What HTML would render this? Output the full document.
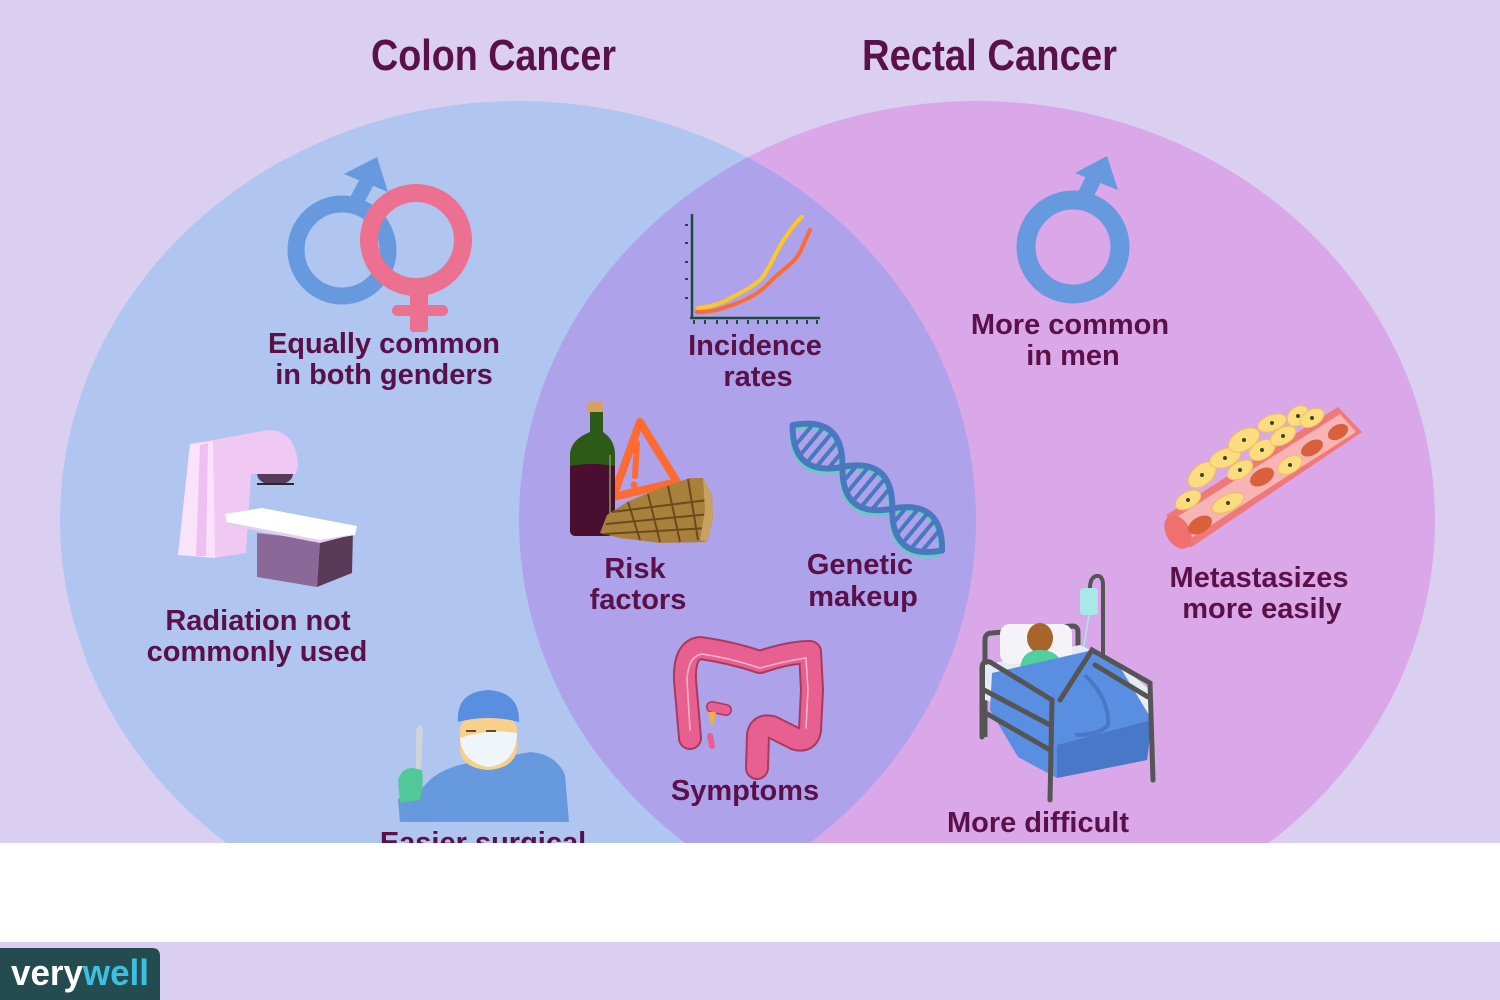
<!DOCTYPE html>
<html>
<head>
<meta charset="utf-8">
<style>
  html,body{margin:0;padding:0;background:#dbcff1;}
  svg{display:block;}
  .lbl{font-family:"Liberation Sans",sans-serif;font-weight:bold;font-size:29px;fill:#5a1048;text-anchor:middle;}
  .ttl{font-family:"Liberation Sans",sans-serif;font-weight:bold;font-size:44px;fill:#5a1048;}
</style>
</head>
<body>
<svg width="1500" height="1000" viewBox="0 0 1500 1000" xmlns="http://www.w3.org/2000/svg">
  <defs>
    <clipPath id="rightC"><ellipse cx="977" cy="520" rx="458" ry="419"/></clipPath>
  </defs>
  <rect x="0" y="0" width="1500" height="1000" fill="#dbcff1"/>
  <!-- circles -->
  <ellipse cx="518" cy="520" rx="458" ry="419" fill="#b0c5f0"/>
  <ellipse cx="977" cy="520" rx="458" ry="419" fill="#daa8e8"/>
  <ellipse cx="518" cy="520" rx="458" ry="419" fill="#aea2ea" clip-path="url(#rightC)"/>

  <!-- titles -->
  <text class="ttl" x="371" y="70" textLength="245" lengthAdjust="spacingAndGlyphs">Colon Cancer</text>
  <text class="ttl" x="862" y="70" textLength="255" lengthAdjust="spacingAndGlyphs">Rectal Cancer</text>

  <!-- gender symbols (left) -->
  <g>
    <line x1="356" y1="202" x2="370" y2="176" stroke="#6699dd" stroke-width="15"/>
    <polygon points="377,157 344,174 388,192" fill="#6699dd"/>
    <circle cx="342" cy="250" r="46" fill="none" stroke="#6699dd" stroke-width="17"/>
    <circle cx="416" cy="240" r="47" fill="none" stroke="#ec7090" stroke-width="18"/>
    <rect x="410" y="284" width="18" height="48" rx="3" fill="#ec7090"/>
    <rect x="392" y="305" width="56" height="11" rx="5" fill="#ec7090"/>
  </g>

  <!-- male symbol (right) -->
  <g>
    <line x1="1083" y1="200" x2="1097" y2="172" stroke="#6699dd" stroke-width="16"/>
    <polygon points="1107,156 1075,173 1118,190" fill="#6699dd"/>
    <circle cx="1073" cy="247" r="47" fill="none" stroke="#6699dd" stroke-width="19"/>
  </g>

  <!-- chart -->
  <g>
    <line x1="692" y1="214" x2="692" y2="319" stroke="#1f4a40" stroke-width="2.5"/>
    <line x1="690" y1="318" x2="820" y2="318" stroke="#1f4a40" stroke-width="2.5"/>
    <g stroke="#1f4a40" stroke-width="2">
      <line x1="685" y1="225" x2="688" y2="225"/><line x1="685" y1="243" x2="688" y2="243"/>
      <line x1="685" y1="262" x2="688" y2="262"/><line x1="685" y1="279" x2="688" y2="279"/>
      <line x1="685" y1="298" x2="688" y2="298"/>
      <line x1="694" y1="320" x2="694" y2="324"/><line x1="705" y1="320" x2="705" y2="324"/>
      <line x1="717" y1="320" x2="717" y2="324"/><line x1="727" y1="320" x2="727" y2="324"/>
      <line x1="737" y1="320" x2="737" y2="324"/><line x1="748" y1="320" x2="748" y2="324"/>
      <line x1="758" y1="320" x2="758" y2="324"/><line x1="767" y1="320" x2="767" y2="324"/>
      <line x1="777" y1="320" x2="777" y2="324"/><line x1="787" y1="320" x2="787" y2="324"/>
      <line x1="797" y1="320" x2="797" y2="324"/><line x1="807" y1="320" x2="807" y2="324"/>
      <line x1="817" y1="320" x2="817" y2="324"/>
    </g>
    <path d="M698,308 C705,307 715,306 727,300 C740,293 752,288 762,278 C770,268 775,252 787,235 C793,226 797,221 802,217" fill="none" stroke="#ffc820" stroke-width="4" stroke-linecap="round"/>
    <path d="M697,312 C710,313 725,308 740,302 C755,296 765,288 775,277 C785,268 795,262 800,252 C804,244 807,236 810,230" fill="none" stroke="#ff6a30" stroke-width="4" stroke-linecap="round"/>
  </g>
  <text class="lbl" x="755" y="355">Incidence</text>
  <text class="lbl" x="758" y="386">rates</text>

  <!-- left labels -->
  <text class="lbl" x="384" y="353">Equally common</text>
  <text class="lbl" x="384" y="384">in both genders</text>
  <text class="lbl" x="1070" y="334">More common</text>
  <text class="lbl" x="1073" y="365">in men</text>

  <!-- radiation machine -->
  <g>
    <path d="M190,444 L268,430 Q296,430 298,466 L296,474 L251,474 L246,553 L213,558 Z" fill="#f0c8f4"/>
    <path d="M190,444 L213,441 L215,558 L178,555 Z" fill="#fbe2fb"/>
    <path d="M200,445 L208,443 L206,556 L196,556 Z" fill="#eec0f2"/>
    <path d="M257,474 L293,474 Q292,484 275,485 Q258,484 257,474 Z" fill="#5a3a5a"/>
    <line x1="257" y1="484" x2="294" y2="484" stroke="#2a2a2a" stroke-width="2"/>
    <polygon points="320,540 353,531 352,573 317,587" fill="#5a3a58"/>
    <polygon points="257,533 320,540 317,587 257,577" fill="#8a6898"/>
    <polygon points="225,514 262,508 357,526 355,535 320,541 227,524" fill="#ffffff"/>
    <polygon points="227,522 320,540 355,534 320,543 227,525" fill="#e6cfee"/>
  </g>
  <text class="lbl" x="258" y="630">Radiation not</text>
  <text class="lbl" x="257" y="661">commonly used</text>

  <!-- risk factors -->
  <g>
    <polygon points="640,422 613,497 677,482" fill="none" stroke="#ff6a30" stroke-width="8" stroke-linejoin="round"/>
    <line x1="637" y1="443" x2="635" y2="476" stroke="#ff6a30" stroke-width="6" stroke-linecap="round"/>
    <circle cx="634" cy="485" r="3.5" fill="#ff6a30"/>
    <rect x="587" y="402" width="16" height="11" rx="2" fill="#d8a060"/>
    <path d="M590,412 L603,412 L603,432 Q615,440 615,455 L615,530 Q615,536 608,536 L576,536 Q570,536 570,530 L570,455 Q570,440 590,432 Z" fill="#2e5a18"/>
    <path d="M570,466 Q592,462 615,466 L615,530 Q615,536 608,536 L576,536 Q570,536 570,530 Z" fill="#4a0f30"/>
    <line x1="610" y1="455" x2="610" y2="525" stroke="#7aa060" stroke-width="1.5"/>
    <path d="M600,533 L607,515 L627,502 L660,488 L690,478 L703,478 L712,495 L713,518 L707,542 L660,543 L620,538 Z" fill="#a8803c"/>
    <g stroke="#6a4a1a" stroke-width="2" fill="none">
      <line x1="612" y1="512" x2="708" y2="500"/>
      <line x1="606" y1="524" x2="710" y2="514"/>
      <line x1="604" y1="534" x2="708" y2="528"/>
      <line x1="628" y1="502" x2="640" y2="540"/>
      <line x1="648" y1="494" x2="660" y2="542"/>
      <line x1="668" y1="486" x2="680" y2="542"/>
      <line x1="688" y1="479" x2="698" y2="540"/>
    </g>
    <path d="M703,478 L712,495 L713,518 L707,542 L700,540 L705,510 Z" fill="#c8a060"/>
  </g>
  <text class="lbl" x="635" y="578">Risk</text>
  <text class="lbl" x="638" y="609">factors</text>

  <!-- DNA -->
  <g transform="translate(808,438) rotate(40)">
    <g transform="translate(1,2)" fill="none" stroke="#50d8b0" stroke-width="6">
      <path d="M-20,0 C1.7,-26.7 23.3,-26.7 45,0 C66.7,26.7 88.3,26.7 110,0 C131.7,-26.7 153.3,-26.7 175,0"/>
      <path d="M-20,0 C1.7,26.7 23.3,26.7 45,0 C66.7,-26.7 88.3,-26.7 110,0 C131.7,26.7 153.3,26.7 175,0"/>
    </g>
    <g stroke="#4a78c0" stroke-width="4">
      <line x1="-5" y1="-13" x2="-5" y2="13"/><line x1="5" y1="-18" x2="5" y2="18"/>
      <line x1="15" y1="-19" x2="15" y2="19"/><line x1="25" y1="-16" x2="25" y2="16"/>
      <line x1="35" y1="-9" x2="35" y2="9"/><line x1="55" y1="-9" x2="55" y2="9"/>
      <line x1="65" y1="-16" x2="65" y2="16"/><line x1="75" y1="-19" x2="75" y2="19"/>
      <line x1="85" y1="-18" x2="85" y2="18"/><line x1="95" y1="-13" x2="95" y2="13"/>
      <line x1="120" y1="-9" x2="120" y2="9"/><line x1="130" y1="-16" x2="130" y2="16"/>
      <line x1="140" y1="-19" x2="140" y2="19"/><line x1="150" y1="-18" x2="150" y2="18"/>
      <line x1="160" y1="-13" x2="160" y2="13"/>
    </g>
    <g fill="none" stroke="#4a78c0" stroke-width="6" stroke-linecap="round">
      <path d="M-20,0 C1.7,-26.7 23.3,-26.7 45,0 C66.7,26.7 88.3,26.7 110,0 C131.7,-26.7 153.3,-26.7 175,0"/>
      <path d="M-20,0 C1.7,26.7 23.3,26.7 45,0 C66.7,-26.7 88.3,-26.7 110,0 C131.7,26.7 153.3,26.7 175,0"/>
    </g>
  </g>
  <text class="lbl" x="860" y="574">Genetic</text>
  <text class="lbl" x="863" y="606">makeup</text>

  <!-- colon -->
  <g fill="none" stroke-linecap="round" stroke-linejoin="round">
    <path d="M690,738 L685,680 Q684,650 700,648 Q730,652 760,662 Q790,652 810,652 L812,690 L810,730 Q808,742 796,739 L772,727 Q760,724 758,735 L757,768" stroke="#a83a60" stroke-width="24"/>
    <path d="M690,738 L685,680 Q684,650 700,648 Q730,652 760,662 Q790,652 810,652 L812,690 L810,730 Q808,742 796,739 L772,727 Q760,724 758,735 L757,768" stroke="#e8608f" stroke-width="20"/>
    <path d="M690,730 L687,680 Q688,656 702,654 Q730,658 760,668 Q790,660 806,658 L808,690 L806,728" stroke="#f8b8d0" stroke-width="1.5"/>
    <path d="M712,707 L726,710" stroke="#a83a60" stroke-width="12"/>
    <path d="M712,707 L726,710" stroke="#e8608f" stroke-width="9"/>
    <path d="M710,736 L712,746" stroke="#e8608f" stroke-width="6"/>
  </g>
  <polygon points="708,712 716,712 712,728" fill="#f0b040"/>
  <text class="lbl" x="745" y="800">Symptoms</text>

  <!-- metastasis -->
  <g>
    <polygon points="1166,515 1338,407 1362,432 1190,548" fill="#f07878"/>
    <polygon points="1172,520 1340,414 1356,432 1188,540" fill="#f8b4b4"/>
    <ellipse cx="1178" cy="532" rx="12" ry="18" transform="rotate(-30 1178 532)" fill="#f07070"/>
    <g fill="#d8603a">
      <ellipse cx="1200" cy="525" rx="13" ry="8" transform="rotate(-30 1200 525)"/>
      <ellipse cx="1262" cy="477" rx="13" ry="8" transform="rotate(-30 1262 477)"/>
      <ellipse cx="1312" cy="448" rx="12" ry="7" transform="rotate(-30 1312 448)"/>
      <ellipse cx="1338" cy="432" rx="11" ry="7" transform="rotate(-30 1338 432)"/>
    </g>
    <g fill="#fbdc80" stroke="#eec058" stroke-width="1">
      <ellipse cx="1188" cy="500" rx="14" ry="8" transform="rotate(-30 1188 500)"/>
      <ellipse cx="1202" cy="475" rx="16" ry="10" transform="rotate(-40 1202 475)"/>
      <ellipse cx="1225" cy="458" rx="16" ry="9" transform="rotate(-20 1225 458)"/>
      <ellipse cx="1244" cy="440" rx="17" ry="10" transform="rotate(-30 1244 440)"/>
      <ellipse cx="1262" cy="450" rx="14" ry="9" transform="rotate(-30 1262 450)"/>
      <ellipse cx="1272" cy="423" rx="15" ry="8" transform="rotate(-20 1272 423)"/>
      <ellipse cx="1283" cy="436" rx="14" ry="8" transform="rotate(-30 1283 436)"/>
      <ellipse cx="1298" cy="416" rx="12" ry="9" transform="rotate(-40 1298 416)"/>
      <ellipse cx="1312" cy="418" rx="13" ry="8" transform="rotate(-30 1312 418)"/>
      <ellipse cx="1290" cy="465" rx="13" ry="8" transform="rotate(-30 1290 465)"/>
      <ellipse cx="1228" cy="503" rx="17" ry="8" transform="rotate(-25 1228 503)"/>
      <ellipse cx="1240" cy="470" rx="14" ry="8" transform="rotate(-30 1240 470)"/>
    </g>
    <g fill="#3a4a20">
      <circle cx="1188" cy="500" r="2"/><circle cx="1202" cy="475" r="2"/><circle cx="1225" cy="458" r="2"/>
      <circle cx="1244" cy="440" r="2"/><circle cx="1262" cy="450" r="2"/><circle cx="1272" cy="423" r="2"/>
      <circle cx="1283" cy="436" r="2"/><circle cx="1298" cy="416" r="2"/><circle cx="1312" cy="418" r="2"/>
      <circle cx="1290" cy="465" r="2"/><circle cx="1228" cy="503" r="2"/><circle cx="1240" cy="470" r="2"/>
    </g>
  </g>
  <text class="lbl" x="1259" y="587">Metastasizes</text>
  <text class="lbl" x="1262" y="618">more easily</text>

  <!-- bed -->
  <g>
    <path d="M1103,663 L1103,585 Q1103,575 1096,576 Q1090,578 1090,588" fill="none" stroke="#555" stroke-width="4"/>
    <rect x="1080" y="588" width="18" height="27" rx="3" fill="#a8e8e8"/>
    <line x1="1089" y1="615" x2="1083" y2="652" stroke="#a8e8e8" stroke-width="1.5"/>
    <path d="M985,737 L985,640 Q985,633 992,633 L1072,626 Q1078,626 1078,632 L1078,657" fill="none" stroke="#555" stroke-width="5"/>
    <path d="M985,665 L1080,645 L1120,665 L1150,690 L1150,720 L1060,720 L985,700 Z" fill="#e6ecf6"/>
    <rect x="1000" y="624" width="72" height="40" rx="10" fill="#f4f4f8"/>
    <ellipse cx="1040" cy="638" rx="13" ry="15" fill="#a8652a"/>
    <path d="M1020,668 Q1022,650 1040,650 Q1060,650 1063,668 Z" fill="#50d0a0"/>
    <path d="M992,673 L1093,650 L1120,667 L1152,720 L1147,760 L1057,778 L1018,757 L990,710 Z" fill="#5a8ee0"/>
    <path d="M1057,745 L1152,720 L1147,760 L1057,778 Z" fill="#4a78c8"/>
    <path d="M1085,675 Q1110,700 1108,725 Q1100,735 1075,735" fill="none" stroke="#4a78c8" stroke-width="4"/>
    <g fill="none" stroke="#555" stroke-width="5" stroke-linecap="round">
      <path d="M982,737 L982,668 Q982,660 990,662 L1052,700 L1050,800"/>
      <path d="M984,690 L1050,725"/>
      <path d="M984,712 L1050,750"/>
      <path d="M1060,700 L1092,650 L1150,683 L1153,780"/>
      <path d="M1095,665 L1148,697"/>
    </g>
  </g>
  <text class="lbl" x="1038" y="832">More difficult</text>

  <!-- surgeon -->
  <g>
    <path d="M400,822 L398,800 Q402,790 416,794 L432,778 Q448,766 470,763 L530,752 Q556,754 565,775 L569,822 Z" fill="#6699dd"/>
    <path d="M460,730 Q460,715 488,714 Q516,715 517,730 L517,750 Q514,768 488,770 Q462,768 460,750 Z" fill="#f8d08c"/>
    <path d="M458,722 Q456,692 488,690 Q520,692 519,722 Q488,714 458,722 Z" fill="#5a8ee0"/>
    <path d="M460,738 Q488,728 517,733 Q516,764 488,767 Q462,762 460,738 Z" fill="#eef6fa"/>
    <line x1="466" y1="731" x2="476" y2="731" stroke="#6a4a20" stroke-width="2"/>
    <line x1="486" y1="731" x2="496" y2="731" stroke="#6a4a20" stroke-width="2"/>
    <path d="M416,770 L416,730 Q420,720 423,730 L421,770 Z" fill="#d0d4d8"/>
    <path d="M400,803 L398,780 Q402,768 412,768 L422,770 Q424,785 420,800 Z" fill="#50c898"/>
  </g>
  <text class="lbl" x="483" y="852">Easier surgical</text>

  <!-- white band -->
  <rect x="0" y="843" width="1500" height="99" fill="#ffffff"/>
  <rect x="0" y="942" width="1500" height="58" fill="#dbcff1"/>

  <!-- logo -->
  <path d="M0,948 L152,948 Q160,948 160,956 L160,1000 L0,1000 Z" fill="#234b50"/>
  <text x="11" y="985" font-family="Liberation Sans, sans-serif" font-weight="bold" font-size="36" textLength="138" lengthAdjust="spacingAndGlyphs"><tspan fill="#ffffff">very</tspan><tspan fill="#3cc0e0">well</tspan></text>
</svg>
</body>
</html>
